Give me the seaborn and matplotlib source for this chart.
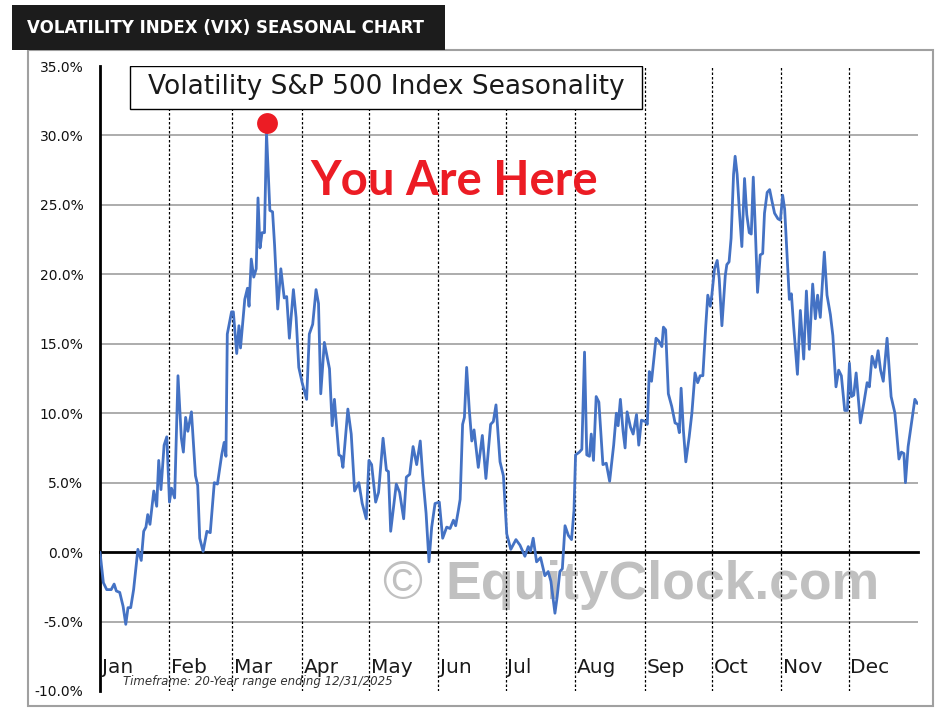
import pandas as pd
import matplotlib
matplotlib.use("Agg")
import matplotlib.pyplot as plt
from matplotlib.patches import Rectangle
import seaborn as sns

# --- data ---
month_names = ["Jan", "Feb", "Mar", "Apr", "May", "Jun",
               "Jul", "Aug", "Sep", "Oct", "Nov", "Dec"]
month_start_day = [0, 31, 59, 90, 120, 151, 181, 212, 243, 273, 304, 334]
year_days = 365

# day of year -> average % change of VIX since Jan 1
day = [
    0, 1.5, 3, 5, 6.3, 7.3, 8.8, 10.3, 11.5, 12.5, 13.7, 15, 16.9, 18.4, 19.5,
    20.5, 21.3, 22.3, 24, 25.3, 26.2, 27.2, 28.6, 29.8, 31, 31.9, 33.3, 34.8,
    36.3, 37.2, 38.2, 39.2, 40.8, 42.6, 43.6, 44.5, 46, 47.7, 49.2, 51, 52.4,
    54.3, 55.4, 56.2, 56.8, 58.7, 59.5, 61, 62, 62.7, 64.6, 65.8, 66.5, 67.5,
    68.6, 69.7, 70.5, 71.4, 72.3, 73.4, 74.3, 75.8, 77, 77.9, 79.3, 80.7, 82.2,
    83.3, 84.5, 86.3, 87.5, 88.7, 90.2, 92.2, 93.4, 94.9, 96.4, 97.5, 98.5,
    100.1, 102.4, 103.6, 104.6, 106.6, 107.6, 108.4, 110.6, 112.1, 113.6,
    115.5, 117, 118.8, 120, 121.2, 123, 124.3, 126.3, 127.8, 128.7, 129.7,
    132.2, 133.7, 135.5, 136.7, 138.2, 139.7, 141.3, 142.9, 144, 145.5, 146.8,
    148, 149.5, 151.4, 152.9, 154.7, 156.2, 157.7, 158.7, 159.9, 160.7, 161.8,
    162.6, 163.6, 164.8, 165.9, 166.9, 168.8, 170.6, 172.2, 174.3, 175.5,
    176.7, 178.5, 180, 181.5, 183.3, 185.6, 187.4, 189.6, 191.1, 192.1, 193.3,
    194.8, 196.6, 198.5, 200, 201.2, 203, 204, 205.2, 206.3, 207.5, 209,
    210.4, 211.5, 212.2, 213.9, 215, 216.2, 217.2, 218.4, 219.2, 220.2, 221.4,
    222.6, 224.4, 225.9, 227.4, 229.2, 230.4, 231.2, 232.2, 233.4, 234.3,
    235.2, 236.7, 237.9, 239.4, 240.4, 241.6, 243.4, 244.2, 245.1, 246.1,
    248.1, 249.3, 250.7, 251.4, 252.4, 253.6, 255.1, 256.6, 257.8, 258.5,
    259.3, 260.3, 261.4, 262.9, 264.1, 265.5, 266.7, 267.8, 269, 270.3, 271.2,
    272.3, 273, 274.2, 275.4, 276.3, 277.5, 279, 279.7, 280.7, 281.6, 282.7,
    283.4, 284.3, 285.4, 286.4, 287.6, 288.6, 289.7, 290.6, 291.5, 292.4,
    293.4, 294.6, 295.7, 296.5, 297.7, 298.8, 299.8, 301, 302.5, 303.6, 304.6,
    305.5, 306.5, 307.6, 308.5, 309.5, 311.2, 312.5, 314, 315.2, 316.5, 318,
    319.2, 320.2, 321.4, 323.2, 324.4, 325.9, 327, 328.4, 329.6, 330.8, 332.3,
    333.5, 334.4, 335.3, 336.3, 337.4, 339.3, 340.8, 342.3, 343.3, 344.5, 346,
    347.2, 348.3, 349.5, 351.2, 353, 354.7, 356.5, 357.6, 358.7, 359.4, 360.6,
    362.1, 363.6, 364.7,
]
change_pct = [
    0.0, -2.2, -2.7, -2.7, -2.3, -2.8, -2.9, -3.9, -5.2, -4.0, -4.0, -2.7, 0.2,
    -0.6, 1.5, 1.8, 2.7, 2.0, 4.4, 3.3, 6.6, 4.5, 7.7, 8.3, 3.6, 4.6, 3.9, 12.7,
    8.2, 7.2, 9.7, 8.7, 10.1, 5.5, 4.8, 1.0, 0.05, 1.5, 1.4, 5.0, 4.9, 7.0, 7.9,
    6.9, 15.7, 17.3, 17.3, 14.3, 16.3, 14.7, 18.2, 19.0, 17.7, 21.1, 19.8, 20.4,
    25.5, 21.9, 23.0, 23.0, 30.2, 24.6, 24.5, 22.1, 17.5, 20.4, 18.3, 18.4,
    15.4, 18.9, 16.9, 13.3, 12.2, 11.0, 15.7, 16.4, 18.9, 17.9, 11.4, 15.1,
    13.2, 9.1, 11.0, 7.0, 6.9, 6.1, 10.3, 8.5, 4.4, 5.0, 3.5, 2.4, 6.6, 6.3,
    3.6, 4.3, 8.2, 5.9, 5.8, 1.5, 4.9, 4.3, 2.4, 5.4, 5.6, 7.6, 6.3, 8.0, 5.5,
    2.8, -0.7, 1.8, 3.5, 3.6, 1.0, 1.8, 1.7, 2.3, 1.9, 3.0, 3.8, 9.2, 9.7,
    13.3, 10.2, 8.0, 8.8, 6.1, 8.4, 5.3, 9.2, 9.4, 10.6, 6.5, 5.5, 1.3, 0.2,
    0.9, 0.5, -0.3, 0.4, 0.05, 1.0, -0.7, -0.4, -1.7, -1.4, -2.1, -4.4, -3.2,
    -1.4, -1.2, 1.9, 1.2, 0.9, 3.0, 7.0, 7.2, 7.4, 14.4, 7.0, 6.9, 8.5, 6.6,
    11.2, 10.8, 6.3, 6.4, 5.1, 7.7, 10.0, 9.1, 11.0, 8.7, 7.5, 10.1, 9.0, 8.5,
    9.9, 7.7, 9.5, 9.4, 9.2, 13.0, 12.3, 15.4, 15.2, 14.8, 16.2, 16.0, 11.4,
    10.5, 9.3, 9.2, 8.6, 11.8, 8.8, 6.5, 8.3, 10.0, 12.9, 12.2, 12.7, 12.7,
    16.3, 18.5, 17.7, 18.5, 20.4, 21.0, 19.7, 16.3, 19.9, 20.7, 20.9, 22.6,
    27.2, 28.5, 27.2, 24.3, 22.0, 26.9, 24.3, 23.0, 22.9, 27.0, 23.3, 18.7,
    21.4, 21.5, 24.4, 25.9, 26.1, 25.3, 24.4, 24.0, 23.9, 25.7, 24.7, 21.6,
    18.2, 18.6, 16.3, 12.8, 17.4, 13.9, 18.8, 14.6, 19.3, 16.8, 18.5, 16.9,
    21.6, 18.5, 17.1, 15.6, 11.9, 13.1, 12.7, 10.2, 10.2, 13.6, 11.2, 11.3,
    12.9, 9.3, 10.7, 12.2, 11.9, 14.1, 13.3, 14.5, 13.1, 12.3, 15.4, 11.2,
    10.0, 6.7, 7.2, 7.1, 5.0, 7.6, 9.3, 11.0, 10.7,
]

# "you are here" marker
here_day = 74.3
here_pct = 30.9

y_ticks = [-10, -5, 0, 5, 10, 15, 20, 25, 30, 35]
grid_levels = [-5, 5, 10, 15, 20, 25, 30]

df = pd.DataFrame({"day": day, "pct": change_pct})

W, H = 945, 714

sns.set_style("white")
plt.rcParams["font.family"] = ["DejaVu Sans"]

fig = plt.figure(figsize=(W / 100, H / 100), dpi=100)
ax = fig.add_axes([100 / W, 1 - 691 / H, 818 / W, 625 / H])

# grid first, so the line sits on top
ax.hlines(grid_levels, 0, year_days, colors="#a6a6a6", lw=1.3, zorder=1)
ax.vlines(month_start_day[1:], -10, 35, colors="black",
          linestyles=(0, (2.0, 1.6)), lw=0.9, zorder=2)

# watermark
ax.text(126, -2.4, "\u00a9", fontsize=39, family="Liberation Sans",
        color="#c0c0c0", va="center", ha="left", zorder=1.5)
ax.text(154, -2.4, "EquityClock.com", fontsize=38.5, family="Liberation Sans",
        weight="bold", color="#c0c0c0", va="center", ha="left", zorder=1.5)

sns.lineplot(data=df, x="day", y="pct", ax=ax, color="#4472C4",
             linewidth=2.0, estimator=None, sort=False, zorder=5)
ax.plot([here_day], [here_pct], "o", color="#ec1c24", ms=15, mew=0, zorder=6)

ax.set_xlim(0, year_days)
ax.set_ylim(-10, 35)
ax.set_xlabel("")
ax.set_ylabel("")

# axes: thick left spine, x axis sits on the 0% line
for s in ["top", "right"]:
    ax.spines[s].set_visible(False)
ax.spines["left"].set_linewidth(2)
ax.spines["left"].set_color("black")
ax.spines["bottom"].set_position(("data", 0))
ax.spines["bottom"].set_linewidth(2)
ax.spines["bottom"].set_color("black")
ax.spines["bottom"].set_zorder(4)

ax.set_xticks(month_start_day + [year_days])
ax.tick_params(axis="x", direction="out", length=4, width=1.5,
               color="black", labelbottom=False)
ax.set_yticks(y_ticks)
ax.set_yticklabels([f"{v:.1f}%" for v in y_ticks])
ax.tick_params(axis="y", direction="out", length=4.5, width=1.8,
               color="black", pad=7.5, labelsize=10, labelcolor="#111111")

for name, start in zip(month_names, month_start_day):
    ax.text(start + 0.8, -8.7, name, fontsize=14.5, va="baseline",
            ha="left", color="#1a1a1a", zorder=3)

ax.text(10.1, -9.57, "Timeframe: 20-Year range ending 12/31/2025",
        fontsize=8.5, style="italic", color="#333333", va="baseline", zorder=3)

# series title box
ax.add_patch(Rectangle((0.0367, 0.9312), 0.6259, 0.0688, transform=ax.transAxes,
                       facecolor="white", edgecolor="black", lw=1, zorder=7))
ax.text(0.3496, 0.9656, "Volatility S&P 500 Index Seasonality",
        transform=ax.transAxes, fontsize=19, ha="center", va="center",
        color="#1a1a1a", zorder=8)

ax.text(93.7, 26.7, "You Are Here", fontsize=34, family="Lato",
        weight="bold", color="#ec1c24", va="center", ha="left", zorder=6)

# outer frame and header banner
fig.add_artist(Rectangle((28 / W, 1 - 706 / H), 905 / W, 656 / H,
                         transform=fig.transFigure, fill=False,
                         edgecolor="#a0a0a0", lw=1.5))
fig.add_artist(Rectangle((12 / W, 1 - 50 / H), 433 / W, 45 / H,
                         transform=fig.transFigure, facecolor="#1c1c1c",
                         edgecolor="none"))
fig.text(27 / W, 1 - 28 / H, "VOLATILITY INDEX (VIX) SEASONAL CHART",
         fontsize=12, weight="bold", color="white", va="center", ha="left")

fig.savefig("out.png", dpi=100)
plt.close(fig)
